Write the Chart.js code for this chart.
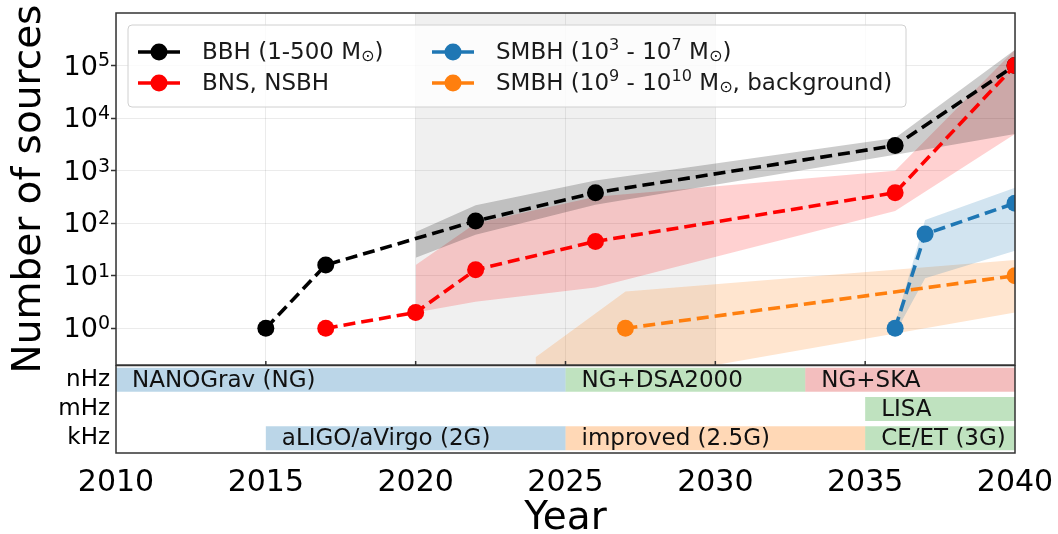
<!DOCTYPE html>
<html>
<head>
<meta charset="utf-8">
<script src="https://cdn.jsdelivr.net/npm/chart.js@4.4.0/dist/chart.umd.min.js"></script>
<style>
  body { margin: 0; background: #fff; }
  #wrap { position: relative; width: 1058px; height: 534px; }
  canvas { position: absolute; left: 0; }
</style>
</head>
<body>
<div id="wrap">
  <canvas id="main" width="1058" height="534" style="top:0"></canvas>
  <canvas id="timeline" width="1058" height="169" style="top:365px"></canvas>
</div>
<script>
// ---- data ----
const bbhYears = [2015, 2017, 2022, 2026, 2036, 2040];
const bbhCounts = [1, 16, 110, 380, 3000, 100000];
const bbhBandYears = [2020, 2022, 2026, 2036, 2040];
const bbhLow = [22, 60, 225, 2000, 5000];
const bbhHigh = [68, 220, 650, 4200, 200000];

const bnsYears = [2017, 2020, 2022, 2026, 2036, 2040];
const bnsCounts = [1, 2, 13, 45, 380, 100000];
const bnsBandYears = [2020, 2022, 2026, 2036, 2040];
const bnsLow = [2, 3.2, 6, 170, 5000];
const bnsHigh = [16, 100, 320, 1000, 200000];

const smbhYears = [2036, 2037, 2040];
const smbhCounts = [1, 62, 240];
const smbhLow = [0.8, 9, 30];
const smbhHigh = [1.2, 115, 470];

const bgYears = [2027, 2040];
const bgCounts = [1, 10];
const bgBandYears = [2024, 2027, 2040];
const bgLow = [0.01, 0.1, 2];
const bgHigh = [0.28, 5, 20];

const highlightYears = [2020, 2030];   // shaded window
const yTickValues = [1, 10, 100, 1000, 10000, 100000];

const bandRows = ['nHz', 'mHz', 'kHz'];
const detectorNames = ['NANOGrav (NG)', 'NG+DSA2000', 'NG+SKA', 'LISA', 'aLIGO/aVirgo (2G)', 'improved (2.5G)', 'CE/ET (3G)'];
const detectorRow = ['nHz', 'nHz', 'nHz', 'mHz', 'kHz', 'kHz', 'kHz'];
const detectorStart = [2010, 2025, 2033, 2035, 2015, 2025, 2035];
const detectorEnd = [2025, 2033, 2040, 2040, 2025, 2035, 2040];

// legend labels, pieces marked sup / sub
const legendLabels = [
  [['BBH (1-500 M'], ['\u2299', 'sub'], [')']],
  [['BNS, NSBH']],
  [['SMBH (10'], ['3', 'sup'], [' - 10'], ['7', 'sup'], [' M'], ['\u2299', 'sub'], [')']],
  [['SMBH (10'], ['9', 'sup'], [' - 10'], ['10', 'sup'], [' M'], ['\u2299', 'sub'], [', background)']]
];

// ---- styles ----
const FONT = "'DejaVu Sans', sans-serif";
const lineColors = ['#000000', '#ff0000', '#1f77b4', '#ff7f0e'];
const bandColors = ['rgba(0,0,0,0.2)', 'rgba(255,0,0,0.18)', 'rgba(31,119,180,0.2)', 'rgba(255,127,14,0.2)'];
const detectorColors = {
  blue: 'rgba(31,119,180,0.3)', green: 'rgba(44,160,44,0.3)',
  red: 'rgba(214,39,40,0.3)', orange: 'rgba(255,127,14,0.3)'
};
const detectorColorKey = ['blue', 'green', 'red', 'green', 'blue', 'orange', 'green'];

const pts = (xs, ys) => xs.map((x, i) => ({ x: x, y: ys[i] }));

const seriesLine = (xs, ys, color, order) => ({
  data: pts(xs, ys),
  borderColor: color,
  backgroundColor: color,
  borderWidth: 3.6,
  borderDash: [12, 6],
  pointRadius: 8.5,
  pointHoverRadius: 8.5,
  pointBorderWidth: 0,
  fill: false,
  tension: 0,
  order: order
});
const bandPair = (xs, lo, hi, color) => [
  { data: pts(xs, lo), borderWidth: 0, pointRadius: 0, fill: false, order: 20 },
  { data: pts(xs, hi), borderWidth: 0, pointRadius: 0, fill: '-1', backgroundColor: color, order: 20 }
];

// chart.js pads axes by half a label; we want exact areas
const noPad = (s) => { s.paddingTop = 0; s.paddingBottom = 0; s.paddingLeft = 0; s.paddingRight = 0; };

// shaded window + frame + legend + power-of-ten labels for main panel
const mainDecor = {
  id: 'mainDecor',
  beforeDatasetsDraw(chart) {
    const { ctx, chartArea: a, scales: { x } } = chart;
    const x0 = x.getPixelForValue(highlightYears[0]);
    const x1 = x.getPixelForValue(highlightYears[1]);
    ctx.save();
    ctx.fillStyle = 'rgba(0,0,0,0.06)';
    ctx.fillRect(x0, a.top, x1 - x0, a.bottom - a.top);
    ctx.restore();
  },
  afterDatasetsDraw(chart) {
    const { ctx, chartArea: a, scales: { x, y } } = chart;
    ctx.save();
    ctx.strokeStyle = '#333';
    ctx.lineWidth = 1.5;
    ctx.strokeRect(a.left, a.top, a.right - a.left, a.bottom - a.top);

    // small inward ticks on the bottom edge
    ctx.beginPath();
    for (let yr = 2015; yr < 2040; yr += 5) {
      const px = x.getPixelForValue(yr);
      ctx.moveTo(px, a.bottom);
      ctx.lineTo(px, a.bottom - 4);
    }
    ctx.stroke();

    // y tick labels as 10 with raised exponent
    ctx.fillStyle = '#000';
    ctx.textBaseline = 'middle';
    ctx.textAlign = 'left';
    yTickValues.forEach((v) => {
      const py = y.getPixelForValue(v);
      const e = String(Math.round(Math.log10(v)));
      ctx.font = '19px ' + FONT;
      const ew = ctx.measureText(e).width;
      ctx.font = '27px ' + FONT;
      const bw = ctx.measureText('10').width;
      const right = a.left - 6;
      ctx.fillText('10', right - ew - bw, py + 2);
      ctx.font = '19px ' + FONT;
      ctx.fillText(e, right - ew, py - 4);
    });

    // legend box
    const bx = a.left + 12, by = a.top + 12, bw = 778, bh = 82;
    ctx.beginPath();
    ctx.roundRect(bx, by, bw, bh, 4);
    ctx.fillStyle = 'rgba(255,255,255,0.8)';
    ctx.fill();
    ctx.strokeStyle = '#d0d0d0';
    ctx.lineWidth = 1;
    ctx.stroke();

    const size = 23;
    legendLabels.forEach((parts, i) => {
      const col = Math.floor(i / 2), row = i % 2;
      const hx = bx + 10 + col * 294;
      const hy = by + 27 + row * 31;
      ctx.strokeStyle = lineColors[i];
      ctx.lineWidth = 3.6;
      ctx.beginPath();
      ctx.moveTo(hx, hy);
      ctx.lineTo(hx + 42, hy);
      ctx.stroke();
      ctx.fillStyle = lineColors[i];
      ctx.beginPath();
      ctx.arc(hx + 21, hy, 8.5, 0, Math.PI * 2);
      ctx.fill();

      let tx = hx + 64;
      ctx.fillStyle = '#1a1a1a';
      ctx.textBaseline = 'middle';
      parts.forEach(([t, kind]) => {
        let s = size, dy = 0;
        if (kind === 'sup') { s = size * 0.7; dy = -size * 0.33; }
        if (kind === 'sub') { s = size * 0.7; dy = size * 0.18; }
        ctx.font = s + 'px ' + FONT;
        ctx.fillText(t, tx, hy + 1 + dy);
        tx += ctx.measureText(t).width;
      });
    });
    ctx.restore();
  }
};

new Chart(document.getElementById('main'), {
  type: 'line',
  data: {
    datasets: [
      ...bandPair(bbhBandYears, bbhLow, bbhHigh, bandColors[0]),
      ...bandPair(bnsBandYears, bnsLow, bnsHigh, bandColors[1]),
      ...bandPair(smbhYears, smbhLow, smbhHigh, bandColors[2]),
      ...bandPair(bgBandYears, bgLow, bgHigh, bandColors[3]),
      seriesLine(bbhYears, bbhCounts, lineColors[0], 4),
      seriesLine(bnsYears, bnsCounts, lineColors[1], 3),
      seriesLine(bgYears, bgCounts, lineColors[3], 2),
      seriesLine(smbhYears, smbhCounts, lineColors[2], 1)
    ]
  },
  options: {
    responsive: false,
    animation: false,
    devicePixelRatio: 1,
    layout: { autoPadding: false, padding: { left: 0, right: 43, top: 13, bottom: 168 } },
    plugins: { legend: { display: false }, tooltip: { enabled: false } },
    scales: {
      x: {
        type: 'linear', min: 2010, max: 2040,
        ticks: { display: false, stepSize: 5 },
        grid: { color: 'rgba(0,0,0,0.08)', drawTicks: false },
        border: { display: false },
        afterFit: (s) => { s.height = 1; noPad(s); }
      },
      y: {
        type: 'logarithmic', min: 0.2, max: 1000000,
        afterBuildTicks: (s) => { s.ticks = yTickValues.map(v => ({ value: v })); },
        ticks: { display: false },
        grid: { color: 'rgba(0,0,0,0.08)', tickLength: 5, tickColor: '#333', tickWidth: 1.5 },
        border: { display: false },
        title: { display: true, text: 'Number of sources', color: '#000', font: { family: FONT, size: 39 }, padding: { top: 6, bottom: 0 } },
        afterFit: (s) => { s.width = 116; noPad(s); }
      }
    }
  },
  plugins: [mainDecor]
});

// frame + detector names for timeline panel
const timelineDecor = {
  id: 'timelineDecor',
  afterDatasetsDraw(chart) {
    const { ctx, chartArea: a } = chart;
    ctx.save();
    ctx.font = '23px ' + FONT;
    ctx.fillStyle = '#111';
    ctx.textBaseline = 'middle';
    chart.data.datasets.forEach((ds, i) => {
      const els = chart.getDatasetMeta(i).data;
      ds.data.forEach((d, j) => {
        if (d == null) return;
        const el = els[j];
        ctx.fillText(ds.label, Math.min(el.x, el.base) + 16, el.y + 1);
      });
    });
    ctx.strokeStyle = '#333';
    ctx.lineWidth = 1.5;
    ctx.strokeRect(a.left, a.top + 0.5, a.right - a.left, a.bottom - a.top - 0.5);
    ctx.restore();
  }
};

new Chart(document.getElementById('timeline'), {
  type: 'bar',
  data: {
    labels: bandRows,
    datasets: detectorNames.map((name, i) => ({
      label: name,
      data: bandRows.map(r => r === detectorRow[i] ? [detectorStart[i], detectorEnd[i]] : null),
      backgroundColor: detectorColors[detectorColorKey[i]],
      borderWidth: 0,
      barPercentage: 0.82,
      categoryPercentage: 1,
      grouped: false
    }))
  },
  options: {
    indexAxis: 'y',
    responsive: false,
    animation: false,
    devicePixelRatio: 1,
    layout: { autoPadding: false, padding: { left: 0, right: 43, top: 0, bottom: 0 } },
    plugins: { legend: { display: false }, tooltip: { enabled: false } },
    scales: {
      x: {
        type: 'linear', min: 2010, max: 2040, position: 'bottom',
        ticks: { stepSize: 5, color: '#000', font: { family: FONT, size: 30 }, padding: 12, callback: (v) => String(v) },
        grid: { display: false, drawTicks: false },
        border: { display: false },
        title: { display: true, text: 'Year', color: '#000', font: { family: FONT, size: 39, lineHeight: 1 }, padding: { top: 0, bottom: -4 } },
        afterFit: (s) => { s.height = 81; noPad(s); }
      },
      y: {
        type: 'category', offset: true,
        ticks: { color: '#000', font: { family: FONT, size: 23 }, padding: 6, autoSkip: false },
        grid: { display: false, drawTicks: false },
        border: { display: false },
        afterFit: (s) => { s.width = 116; noPad(s); }
      }
    }
  },
  plugins: [timelineDecor]
});
</script>
</body>
</html>
